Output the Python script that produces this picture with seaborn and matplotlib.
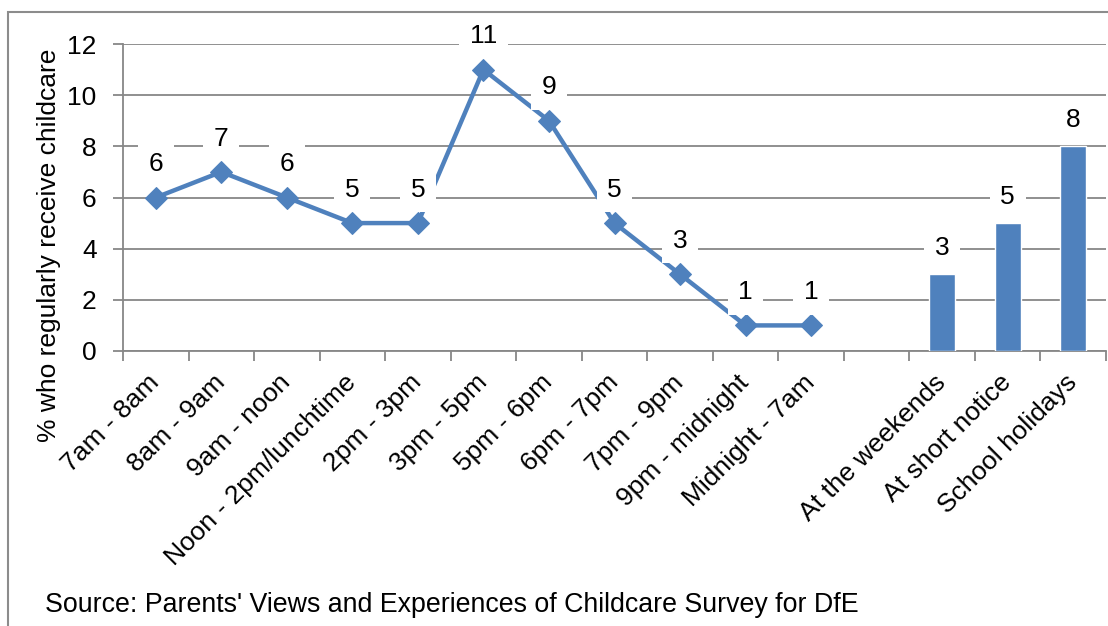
import matplotlib
matplotlib.use("Agg")
import matplotlib.pyplot as plt
from matplotlib.patches import Rectangle
import seaborn as sns
import pandas as pd

# Time-of-day slots (line) and other occasions (bars)
time_slots = ["7am - 8am", "8am - 9am", "9am - noon", "Noon - 2pm/lunchtime",
              "2pm - 3pm", "3pm - 5pm", "5pm - 6pm", "6pm - 7pm", "7pm - 9pm",
              "9pm - midnight", "Midnight - 7am"]
time_values = [6, 7, 6, 5, 5, 11, 9, 5, 3, 1, 1]

occasions = ["At the weekends", "At short notice", "School holidays"]
occasion_values = [3, 5, 8]

y_ticks = [0, 2, 4, 6, 8, 10, 12]

# Full category axis: time slots, one blank slot, then occasions
categories = time_slots + [""] + occasions
line_df = pd.DataFrame({"pos": [categories.index(c) for c in time_slots],
                        "value": time_values})
bar_df = pd.DataFrame({"pos": [categories.index(c) for c in occasions],
                       "value": occasion_values})

sns.set_theme(style="white")
plt.rcParams["font.family"] = ["Liberation Sans", "DejaVu Sans"]
plt.rcParams["text.color"] = "black"
plt.rcParams["xtick.color"] = "black"
plt.rcParams["ytick.color"] = "black"
plt.rcParams["axes.labelcolor"] = "black"

BLUE = "#4F81BD"
GRID = "#878787"
FS = 19

fig = plt.figure(figsize=(11.08, 6.26), dpi=100)
ax = fig.add_axes([123 / 1108, 1 - 351 / 626, (1106 - 123) / 1108, (351 - 44) / 626])

sns.barplot(data=bar_df, x="pos", y="value", native_scale=True, width=0.4,
            color=BLUE, saturation=1, ax=ax, zorder=3)
sns.lineplot(data=line_df, x="pos", y="value", color=BLUE, linewidth=3.2,
             marker="D", markersize=11, markeredgecolor=BLUE, ax=ax, zorder=4)

ax.set_xlim(-0.5, len(categories) - 0.5)
ax.set_ylim(0, 12)
ax.set_yticks(y_ticks)
ax.yaxis.grid(True, color=GRID, linewidth=1.3)
ax.xaxis.grid(False)
ax.set_axisbelow(True)

ax.set_xticks(range(len(categories)))
ax.set_xticklabels(categories, rotation=45, ha="right", va="center",
                   rotation_mode="anchor", fontsize=FS)
ax.set_xticks([i - 0.5 for i in range(len(categories) + 1)], minor=True)
ax.tick_params(axis="x", which="major", length=0, pad=20)
ax.tick_params(axis="x", which="minor", length=7, width=1.3, color=GRID,
               direction="out", bottom=True)
ax.tick_params(axis="y", length=7, width=1.3, color=GRID, direction="out",
               left=True, labelsize=FS, labelcolor="black", pad=12)

for side in ["top", "right"]:
    ax.spines[side].set_visible(False)
for side in ["left", "bottom"]:
    ax.spines[side].set_color(GRID)
    ax.spines[side].set_linewidth(1.3)

ax.set_xlabel("")
ax.set_ylabel("% who regularly receive childcare", fontsize=FS)
ax.yaxis.set_label_coords((61 - 123) / 983, (351 - 245) / 307)

# Value labels on white boxes
box = dict(boxstyle="square,pad=0.4", facecolor="white", edgecolor="none")
for p, v in zip(line_df["pos"], line_df["value"]):
    ax.annotate(str(v), (p, v), xytext=(0, 24), textcoords="offset points",
                ha="center", va="center", fontsize=FS, bbox=box, zorder=5)
for p, v in zip(bar_df["pos"], bar_df["value"]):
    ax.annotate(str(v), (p, v), xytext=(0, 19), textcoords="offset points",
                ha="center", va="center", fontsize=FS, bbox=box, zorder=5)

fig.text(45 / 1108, 1 - 605 / 626,
         "Source: Parents' Views and Experiences of Childcare Survey for DfE",
         fontsize=19.3, ha="left", va="center")

# Outer chart frame
fig.add_artist(Rectangle((8 / 1108, -0.1), 1.2, 1.1 - 12 / 626,
                         transform=fig.transFigure, fill=False,
                         edgecolor="#8c8c8c", linewidth=1.5))

fig.savefig("out.png", dpi=100)
